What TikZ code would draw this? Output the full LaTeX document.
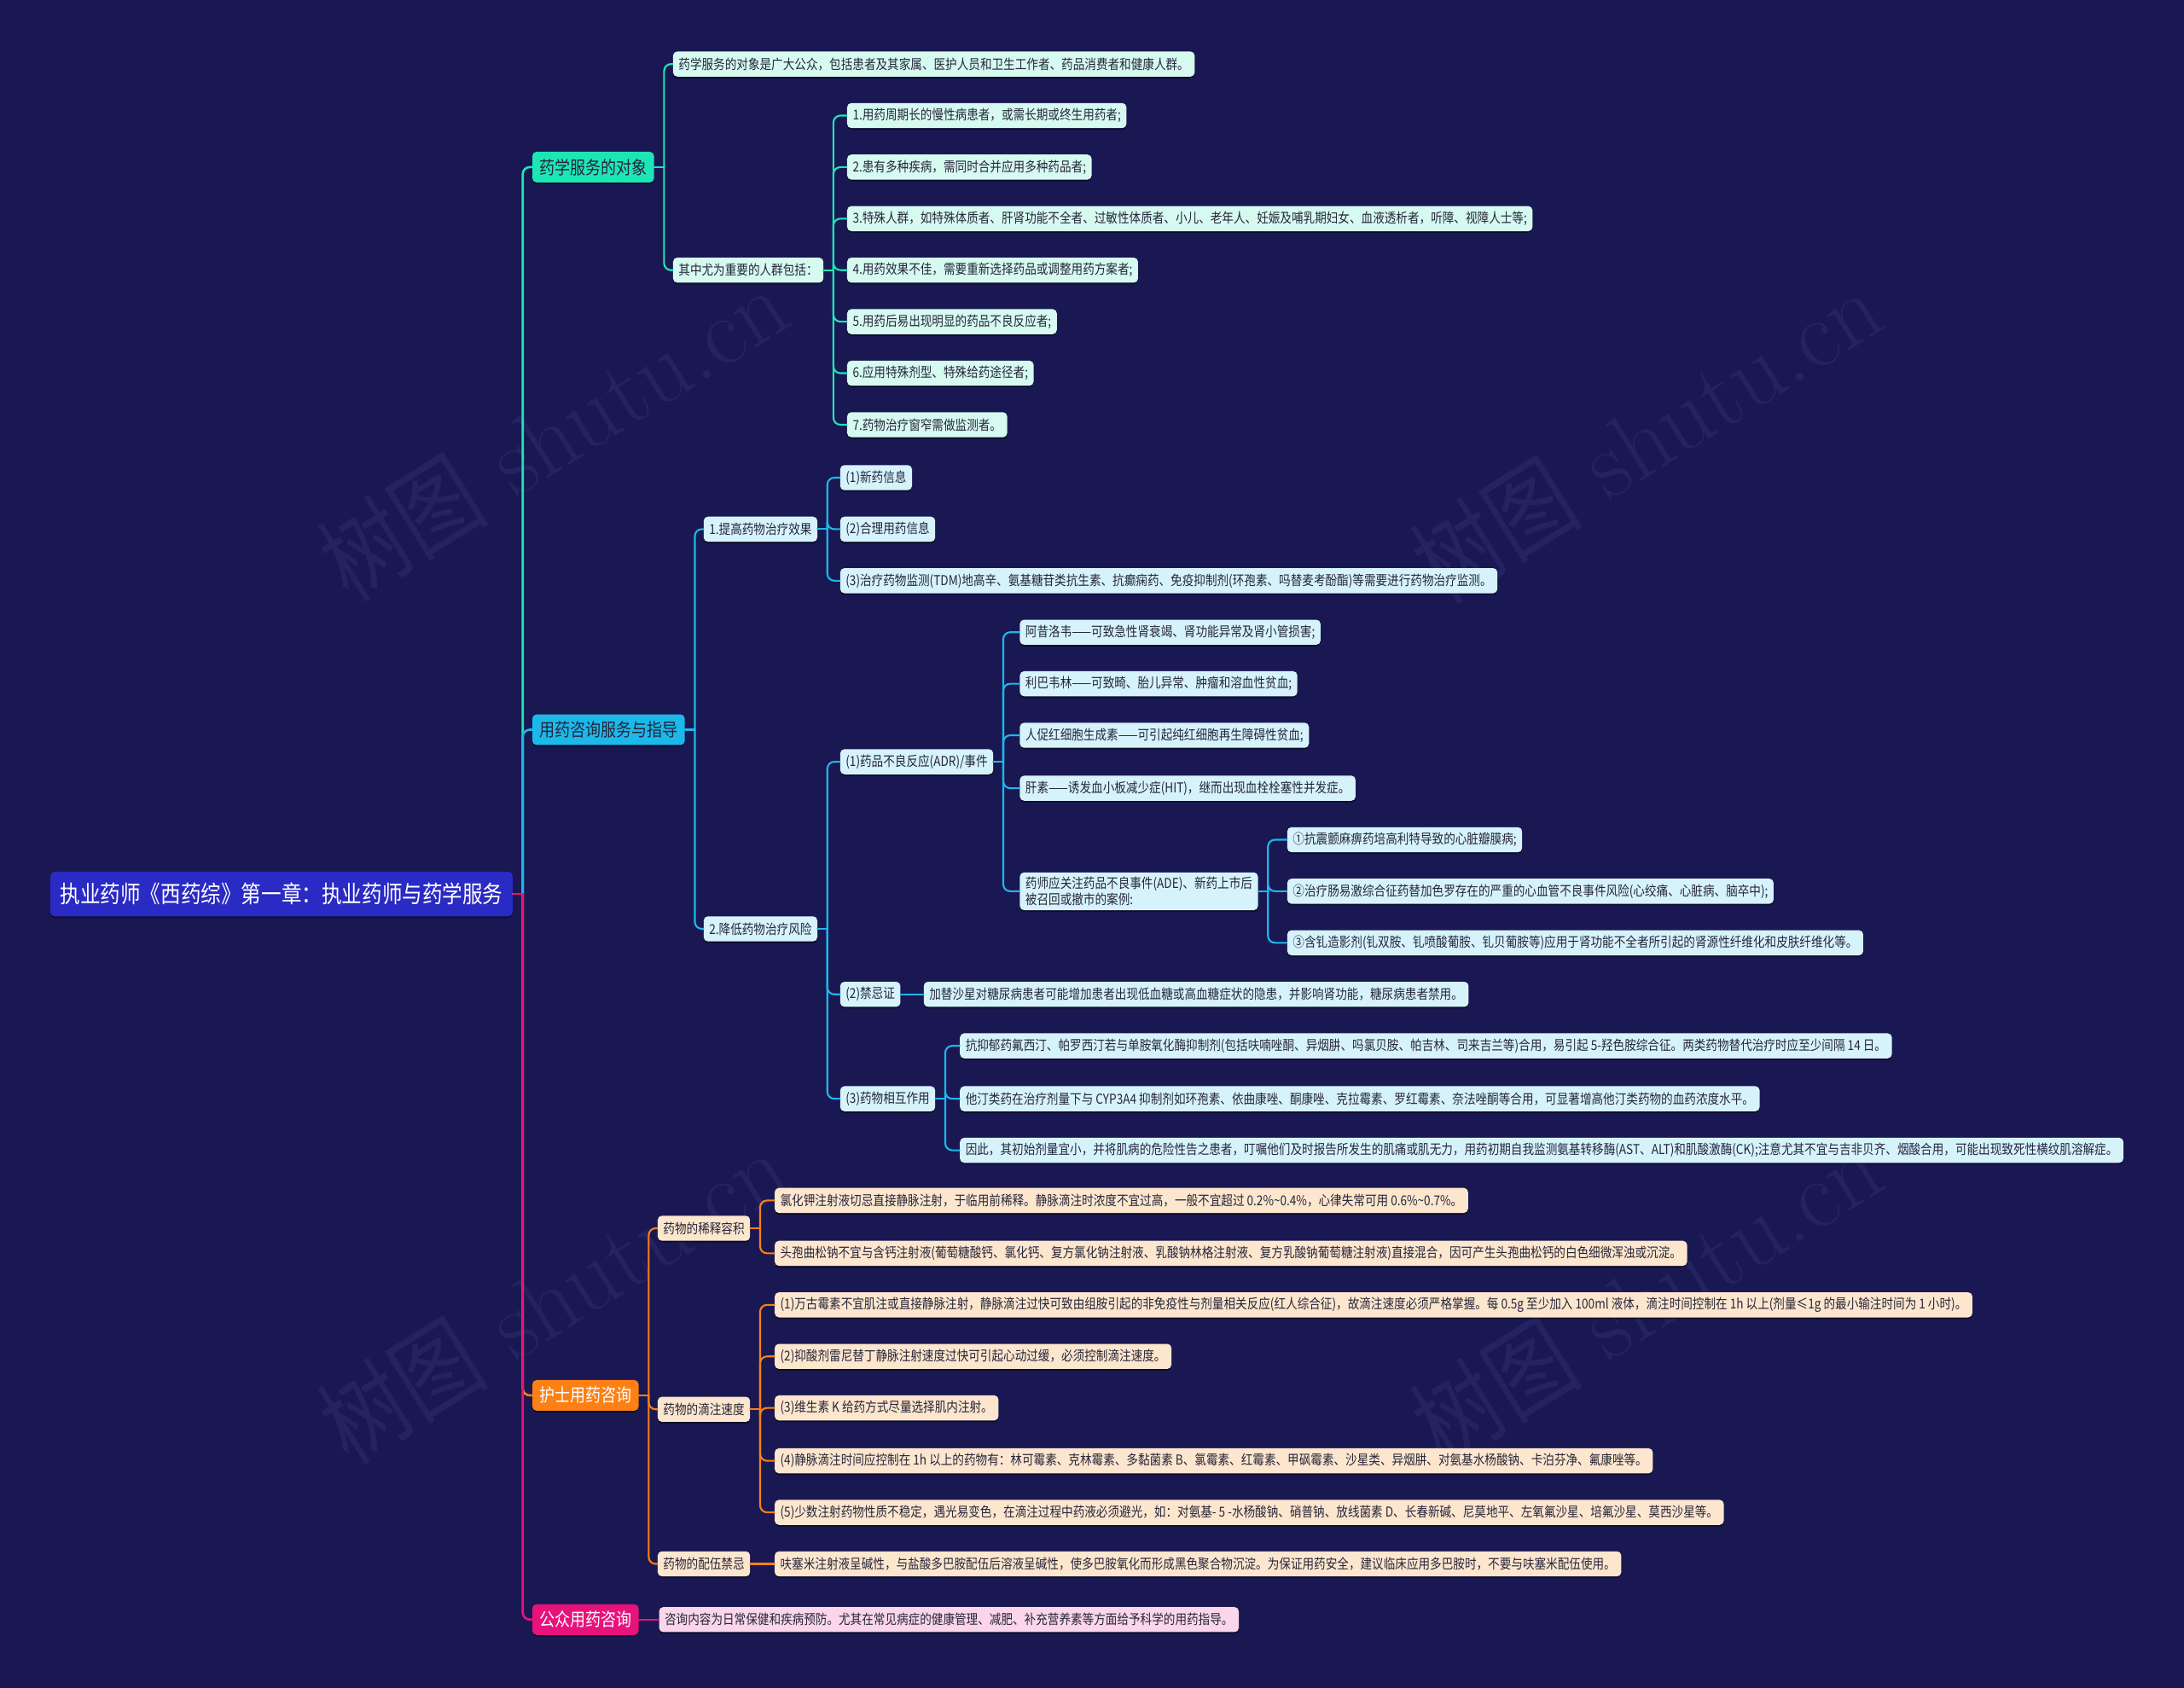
\documentclass[tikz,border=0pt]{standalone}
\usepackage{fontspec}
\newfontfamily\cjk[FakeStretch=0.85]{Noto Sans CJK SC}
\usetikzlibrary{shadows}
\definecolor{bg}{RGB}{26,24,82}
\definecolor{wm}{RGB}{36,34,96}
\definecolor{rootc}{RGB}{42,42,196}
\definecolor{tealM}{RGB}{29,230,182}
\definecolor{tealL}{RGB}{214,250,240}
\definecolor{blueM}{RGB}{28,184,234}
\definecolor{blueL}{RGB}{214,243,252}
\definecolor{orM}{RGB}{252,128,20}
\definecolor{orL}{RGB}{253,230,206}
\definecolor{pkM}{RGB}{232,18,124}
\definecolor{pkL}{RGB}{251,214,234}
\definecolor{txt}{RGB}{38,38,58}
\newcommand\leaffont{\cjk\fontsize{9.8}{12}\selectfont}
\newcommand\lonefont{\cjk\fontsize{13}{15}\selectfont}
\newcommand\rootfont{\cjk\fontsize{17}{20}\selectfont}
\newcommand\lnk[3]{%
  \draw[#1] (#2.east) -- ++(7pt,0) coordinate (jx);
  \draw[#1,rounded corners=5pt] (jx) |- (#3.west);}
\newcommand\slnk[3]{\draw[#1] (#2.east) -- (#3.west);}
\tikzset{
  sh/.style={drop shadow={shadow xshift=0pt,shadow yshift=-1.2pt,fill=black,opacity=0.45}},
  base/.style={sh,rounded corners=3pt,inner xsep=4pt,inner ysep=2pt,minimum height=18pt,anchor=west,font=\leaffont,text=txt},
  lt/.style={base,fill=tealL},
  lb/.style={base,fill=blueL},
  lo/.style={base,fill=orL},
  lp/.style={base,fill=pkL},
  lone/.style={sh,rounded corners=3pt,inner xsep=5pt,minimum height=22pt,anchor=west,font=\lonefont},
  ct/.style={line width=1.3pt,tealM,line cap=round},
  cb/.style={line width=1.3pt,blueM,line cap=round},
  co/.style={line width=1.3pt,orM,line cap=round},
  cp/.style={line width=1.3pt,pkM,line cap=round},
  wmark/.style={rotate=32,text=wm,font=\fontsize{70}{78}\selectfont},
}
\begin{document}
\begin{tikzpicture}[x=1pt,y=-1pt]
\fill[bg] (0,0) rectangle (1568,1212);
\useasboundingbox (0,0) rectangle (1568,1212);
% watermarks
\node[wmark] (w1) at (397,310) {{\cjk 树图} shutu.cn};
\node[wmark] (w2) at (1182,312) {{\cjk 树图} shutu.cn};
\node[wmark] (w3) at (397,930) {{\cjk 树图} shutu.cn};
\node[wmark] (w4) at (1182,930) {{\cjk 树图} shutu.cn};
% root
\node[sh,anchor=west,fill=rootc,text=white,rounded corners=3pt,minimum height=32pt,inner xsep=7pt,font=\rootfont] (root) at (36,642) {执业药师《西药综》第一章：执业药师与药学服务};
% level 1
\node[lone,fill=tealM,text=txt] (n1) at (382,120) {药学服务的对象};
\node[lone,fill=blueM,text=txt] (n2) at (382,524) {用药咨询服务与指导};
\node[lone,fill=orM,text=white] (n3) at (382,1002) {护士用药咨询};
\node[lone,fill=pkM,text=white] (n4) at (382,1163) {公众用药咨询};
% teal branch
\node[lt] (a1) at (483,46) {药学服务的对象是广大公众，包括患者及其家属、医护人员和卫生工作者、药品消费者和健康人群。};
\node[lt] (a2) at (483,194) {其中尤为重要的人群包括：};
\node[lt] (a21) at (608,83) {1.用药周期长的慢性病患者，或需长期或终生用药者;};
\node[lt] (a22) at (608,120) {2.患有多种疾病，需同时合并应用多种药品者;};
\node[lt] (a23) at (608,157) {3.特殊人群，如特殊体质者、肝肾功能不全者、过敏性体质者、小儿、老年人、妊娠及哺乳期妇女、血液透析者，听障、视障人士等;};
\node[lt] (a24) at (608,194) {4.用药效果不佳，需要重新选择药品或调整用药方案者;};
\node[lt] (a25) at (608,231) {5.用药后易出现明显的药品不良反应者;};
\node[lt] (a26) at (608,268) {6.应用特殊剂型、特殊给药途径者;};
\node[lt] (a27) at (608,305) {7.药物治疗窗窄需做监测者。};
% blue branch
\node[lb] (b1) at (505,380) {1.提高药物治疗效果};
\node[lb] (b11) at (603,343) {(1)新药信息};
\node[lb] (b12) at (603,380) {(2)合理用药信息};
\node[lb] (b13) at (603,417) {(3)治疗药物监测(TDM)地高辛、氨基糖苷类抗生素、抗癫痫药、免疫抑制剂(环孢素、吗替麦考酚酯)等需要进行药物治疗监测。};
\node[lb] (b2) at (505,667) {2.降低药物治疗风险};
\node[lb] (b21) at (603,547) {(1)药品不良反应(ADR)/事件};
\node[lb] (c1) at (732,454) {阿昔洛韦——可致急性肾衰竭、肾功能异常及肾小管损害;};
\node[lb] (c2) at (732,491) {利巴韦林——可致畸、胎儿异常、肿瘤和溶血性贫血;};
\node[lb] (c3) at (732,528) {人促红细胞生成素——可引起纯红细胞再生障碍性贫血;};
\node[lb] (c4) at (732,566) {肝素——诱发血小板减少症(HIT)，继而出现血栓栓塞性并发症。};
\node[lb,align=left,inner ysep=3pt] (c5) at (732,640) {药师应关注药品不良事件(ADE)、新药上市后\\被召回或撤市的案例:};
\node[lb] (d1) at (924,603) {①抗震颤麻痹药培高利特导致的心脏瓣膜病;};
\node[lb] (d2) at (924,640) {②治疗肠易激综合征药替加色罗存在的严重的心血管不良事件风险(心绞痛、心脏病、脑卒中);};
\node[lb] (d3) at (924,677) {③含钆造影剂(钆双胺、钆喷酸葡胺、钆贝葡胺等)应用于肾功能不全者所引起的肾源性纤维化和皮肤纤维化等。};
\node[lb] (b22) at (603,714) {(2)禁忌证};
\node[lb] (e1) at (663,714) {加替沙星对糖尿病患者可能增加患者出现低血糖或高血糖症状的隐患，并影响肾功能，糖尿病患者禁用。};
\node[lb] (b23) at (603,789) {(3)药物相互作用};
\node[lb] (f1) at (689,751) {抗抑郁药氟西汀、帕罗西汀若与单胺氧化酶抑制剂(包括呋喃唑酮、异烟肼、吗氯贝胺、帕吉林、司来吉兰等)合用，易引起 5-羟色胺综合征。两类药物替代治疗时应至少间隔 14 日。};
\node[lb] (f2) at (689,789) {他汀类药在治疗剂量下与 CYP3A4 抑制剂如环孢素、依曲康唑、酮康唑、克拉霉素、罗红霉素、奈法唑酮等合用，可显著增高他汀类药物的血药浓度水平。};
\node[lb] (f3) at (689,826) {因此，其初始剂量宜小，并将肌病的危险性告之患者，叮嘱他们及时报告所发生的肌痛或肌无力，用药初期自我监测氨基转移酶(AST、ALT)和肌酸激酶(CK);注意尤其不宜与吉非贝齐、烟酸合用，可能出现致死性横纹肌溶解症。};
% orange branch
\node[lo] (g1) at (472,882) {药物的稀释容积};
\node[lo] (g11) at (556,862) {氯化钾注射液切忌直接静脉注射，于临用前稀释。静脉滴注时浓度不宜过高，一般不宜超过 0.2\%\textasciitilde0.4\%，心律失常可用 0.6\%\textasciitilde0.7\%。};
\node[lo] (g12) at (556,900) {头孢曲松钠不宜与含钙注射液(葡萄糖酸钙、氯化钙、复方氯化钠注射液、乳酸钠林格注射液、复方乳酸钠葡萄糖注射液)直接混合，因可产生头孢曲松钙的白色细微浑浊或沉淀。};
\node[lo] (g2) at (472,1012) {药物的滴注速度};
\node[lo] (g21) at (556,937) {(1)万古霉素不宜肌注或直接静脉注射，静脉滴注过快可致由组胺引起的非免疫性与剂量相关反应(红人综合征)，故滴注速度必须严格掌握。每 0.5g 至少加入 100ml 液体，滴注时间控制在 1h 以上(剂量≤1g 的最小输注时间为 1 小时)。};
\node[lo] (g22) at (556,974) {(2)抑酸剂雷尼替丁静脉注射速度过快可引起心动过缓，必须控制滴注速度。};
\node[lo] (g23) at (556,1011) {(3)维生素 K 给药方式尽量选择肌内注射。};
\node[lo] (g24) at (556,1049) {(4)静脉滴注时间应控制在 1h 以上的药物有：林可霉素、克林霉素、多黏菌素 B、氯霉素、红霉素、甲砜霉素、沙星类、异烟肼、对氨基水杨酸钠、卡泊芬净、氟康唑等。};
\node[lo] (g25) at (556,1086) {(5)少数注射药物性质不稳定，遇光易变色，在滴注过程中药液必须避光，如：对氨基- 5 -水杨酸钠、硝普钠、放线菌素 D、长春新碱、尼莫地平、左氧氟沙星、培氟沙星、莫西沙星等。};
\node[lo] (g3) at (472,1123) {药物的配伍禁忌};
\node[lo] (g31) at (556,1123) {呋塞米注射液呈碱性，与盐酸多巴胺配伍后溶液呈碱性，使多巴胺氧化而形成黑色聚合物沉淀。为保证用药安全，建议临床应用多巴胺时，不要与呋塞米配伍使用。};
% pink branch
\node[lp] (p1) at (473,1163) {咨询内容为日常保健和疾病预防。尤其在常见病症的健康管理、减肥、补充营养素等方面给予科学的用药指导。};
% connectors: root level
\lnk{ct,line width=1.6pt}{root}{n1}
\lnk{cb,line width=1.6pt}{root}{n2}
\lnk{co,line width=1.6pt}{root}{n3}
\lnk{cp,line width=1.6pt}{root}{n4}
% teal
\lnk{ct}{n1}{a1}
\lnk{ct}{n1}{a2}
\foreach \k in {a21,a22,a23,a24,a25,a26,a27} {\lnk{ct}{a2}{\k}}
% blue
\lnk{cb}{n2}{b1}
\lnk{cb}{n2}{b2}
\foreach \k in {b11,b12,b13} {\lnk{cb}{b1}{\k}}
\foreach \k in {b21,b22,b23} {\lnk{cb}{b2}{\k}}
\foreach \k in {c1,c2,c3,c4,c5} {\lnk{cb}{b21}{\k}}
\foreach \k in {d1,d2,d3} {\lnk{cb}{c5}{\k}}
\slnk{cb}{b22}{e1}
\foreach \k in {f1,f2,f3} {\lnk{cb}{b23}{\k}}
% orange
\foreach \k in {g1,g2,g3} {\lnk{co}{n3}{\k}}
\foreach \k in {g11,g12} {\lnk{co}{g1}{\k}}
\foreach \k in {g21,g22,g23,g24,g25} {\lnk{co}{g2}{\k}}
\slnk{co}{g3}{g31}
% pink
\slnk{cp}{n4}{p1}
\end{tikzpicture}
\end{document}
